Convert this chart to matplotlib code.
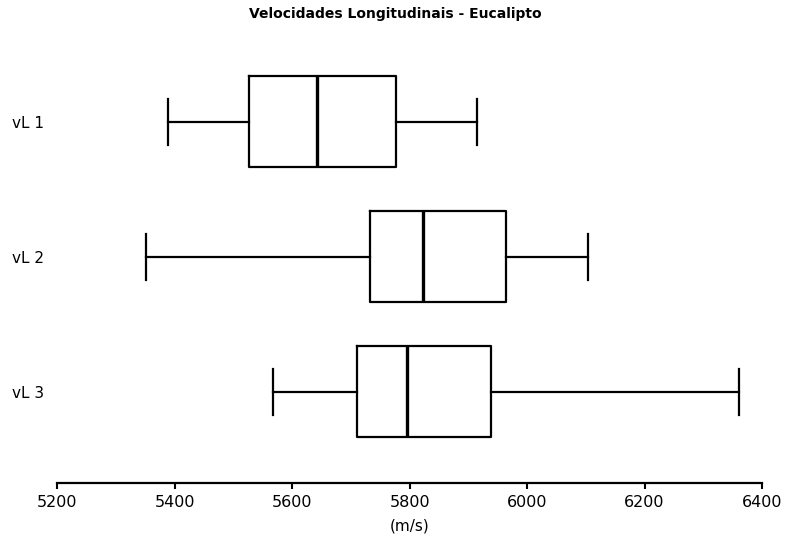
import matplotlib
matplotlib.use('Agg')
import matplotlib.pyplot as plt

# valores (m/s)
labels = ['vL 1', 'vL 2', 'vL 3']
whislo = [5389, 5351, 5567]
q1 = [5527, 5732, 5711]
med = [5642, 5823, 5796]
q3 = [5777, 5964, 5939]
whishi = [5915, 6104, 6361]

xticks = [5200, 5400, 5600, 5800, 6000, 6200, 6400]

stats = []
for i in range(len(labels)):
    stats.append({'label': labels[i], 'whislo': whislo[i], 'q1': q1[i],
                  'med': med[i], 'q3': q3[i], 'whishi': whishi[i], 'fliers': []})

fig = plt.figure(figsize=(7.85, 5.43), dpi=100)
ax = fig.add_axes([0.0732, 0.1105, 0.8975, 0.7974])

line = dict(color='black', linewidth=1.6)
ax.bxp(stats, positions=[1, 2, 3], vert=False, widths=0.674,
       showfliers=False,
       boxprops=line, whiskerprops=line, capprops=line,
       medianprops=dict(color='black', linewidth=2.4))

ax.set_ylim(3.674, 0.467)
ax.set_xlim(5200, 6400)
ax.set_xticks(xticks)
ax.set_xticklabels([str(t) for t in xticks], fontsize=11.5)
ax.tick_params(axis='x', direction='out', length=4, width=1.5, pad=5)
ax.tick_params(axis='y', length=0, pad=33, labelsize=11)
for t in ax.get_yticklabels():
    t.set_horizontalalignment('left')

for s in ['top', 'left', 'right']:
    ax.spines[s].set_visible(False)
ax.spines['bottom'].set_linewidth(1.6)

ax.set_xlabel('(m/s)', fontsize=11, labelpad=6)
fig.text(395 / 785, 1 - 14 / 543, 'Velocidades Longitudinais - Eucalipto',
         ha='center', va='center', fontsize=10, fontweight='bold')

fig.savefig('out.png', dpi=100)
